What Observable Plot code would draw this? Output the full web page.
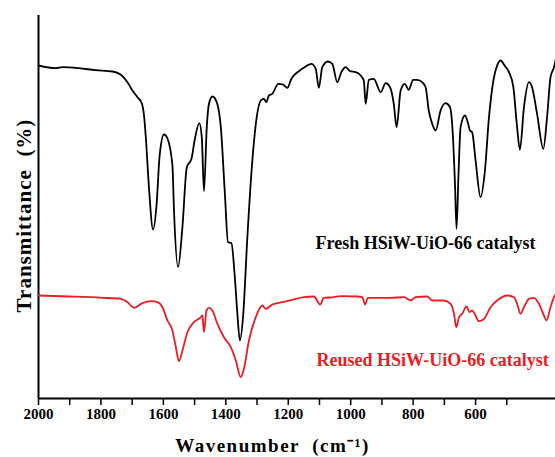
<!DOCTYPE html>
<html><head><meta charset="utf-8">
<script src="https://cdn.jsdelivr.net/npm/d3@7"></script>
<script src="https://cdn.jsdelivr.net/npm/@observablehq/plot@0.6"></script>
<style>
body{margin:0;background:#fff}
#chart svg, #chart svg text{font-family:"Liberation Serif","Times New Roman",serif !important;font-weight:bold}
</style>
</head><body><div id="chart"></div>
<script>
const freshWavenumber = [2000,1945,1923,1871,1817,1763,1736,1715,1699,1683,1669,1662,1656,1646,1633,1622,1612,1598,1587,1571,1566,1553,1539,1525,1510,1500,1485,1477,1470,1461,1454,1443,1429,1416,1403,1393,1382,1372,1363,1355,1344,1331,1315,1301,1288,1278,1270,1262,1251,1232,1217,1203,1190,1166,1144,1126,1112,1102,1091,1073,1059,1043,1030,1016,1002,984,968,958,952,942,926,904,888,874,862,853,840,827,814,800,787,771,760,750,739,728,712,696,682,673,666,661,655,648,634,625,618,611,600,584,570,557,543,531,520,507,493,479,467,458,445,429,419,403,383,371,360,349,344];
const freshT = [333,330.3,331.3,330.3,328.3,327,323.7,316.3,308,301.3,295,283,260,210,169,193,243,264,260,233,188,131.3,171.3,231.3,239.7,258,275.3,261.3,207.3,271.3,294.7,302,296.3,271.3,204.7,156.3,155.3,125,85,58,85,161.3,238,281.3,298,299.7,296.3,303,304.7,314.7,314,310.7,319.7,327.3,332,334.7,329.7,310.7,331.3,337,334.7,316.3,326.3,331.3,327.3,326.3,323,318,294.7,318.7,319.7,306.3,315.3,311.3,294.7,271.3,308,314.7,308.7,318.7,318.7,316.3,311.3,288,274.7,268,288,295.3,291.3,264.7,214.7,169.7,221.3,271.3,283,276.3,268,266.3,238,201.3,228,281.3,318,333,338,333,326.3,311.3,271.3,248.7,291.3,316.3,311.3,284.7,249.7,281.3,321.3,331.3,338];
const reusedWavenumber = [2000,1902,1795,1736,1715,1694,1667,1640,1619,1603,1587,1571,1560,1550,1539,1523,1502,1480,1475,1470,1462,1454,1443,1427,1406,1384,1368,1352,1342,1326,1304,1283,1272,1251,1219,1187,1150,1118,1098,1086,1054,1032,979,963,954,945,915,872,830,808,792,755,739,702,680,669,662,653,643,629,619,611,603,589,573,552,531,498,477,467,456,445,429,413,397,381,373,360,349,344];
const reusedT = [103,102,100.7,99.7,96.3,90.7,95.3,97.3,96.3,91.3,78,68,51.3,37.3,48,66.3,76.3,81.3,83,66.3,88,90.7,88,74.7,61.3,51.3,38,21.3,29.7,58,81.3,93,89.7,94,96.3,98.7,101.3,102,94,100.7,101.3,102.3,102,101.3,94,100.7,100.7,100.7,101.3,98,101.3,102,98,98,94.7,84.7,71.3,81.3,84.7,92,86.3,88,84.7,77.3,79.7,91.3,98,103,101.3,94.7,84.7,91.3,99.7,100.7,94.7,83,78,91.3,101.3,104];
const xTickLabels = [2000,1800,1600,1400,1200,1000,800,600];
const xMinorTicks = [1900,1700,1500,1300,1100,900,700,500];
const seriesLabels = ["Fresh HSiW-UiO-66 catalyst", "Reused HSiW-UiO-66 catalyst"];
const xTitle = "Wavenumber  (cm\u207B\u00B9)";
const yTitle = "Transmittance  (%)";

const RED = "#ec1c24";
const FONT = "Liberation Serif";
const fresh = freshWavenumber.map((w, i) => ({w, t: freshT[i]}));
const reused = reusedWavenumber.map((w, i) => ({w, t: reusedT[i]}));
const allTicks = xTickLabels.concat(xMinorTicks).sort((a, b) => b - a);

const chart = Plot.plot({
  width: 555, height: 457,
  marginLeft: 38, marginRight: 0, marginTop: 15, marginBottom: 59,
  style: {fontFamily: FONT, fontWeight: "bold", background: "#fff", color: "#000"},
  x: {domain: [2000, 344]},
  y: {domain: [0, 383], axis: null},
  marks: [
    Plot.axisX(allTicks, {tickSize: 7, tickPadding: 3, strokeWidth: 1.5,
      tickFormat: d => xTickLabels.includes(d) ? String(d) : "",
      fontSize: 15, fontWeight: "bold", fontFamily: FONT, label: null}),
    Plot.ruleY([0], {strokeWidth: 2}),
    Plot.ruleX([2000], {strokeWidth: 2}),
    Plot.line(fresh, {x: "w", y: "t", stroke: "#000", strokeWidth: 1.8, curve: "monotone-x"}),
    Plot.line(reused, {x: "w", y: "t", stroke: RED, strokeWidth: 1.8, curve: "monotone-x"}),
    Plot.text([seriesLabels[0]], {text: d => d, frameAnchor: "top-left", dx: 277, dy: 233, textAnchor: "start", lineAnchor: "bottom", fontSize: 18, fontFamily: FONT, fontWeight: "bold", fill: "#000"}),
    Plot.text([seriesLabels[1]], {text: d => d, frameAnchor: "top-left", dx: 278, dy: 350, textAnchor: "start", lineAnchor: "bottom", fontSize: 18, fontFamily: FONT, fontWeight: "bold", fill: RED}),
    Plot.text([xTitle], {text: d => d, frameAnchor: "bottom", dx: -24.5, dy: 53, textAnchor: "middle", lineAnchor: "bottom", fontSize: 19, fontFamily: FONT, fontWeight: "bold", fill: "#000"}),
    Plot.text([yTitle], {text: d => d, frameAnchor: "left", dx: -14, dy: 8.5, rotate: -90, textAnchor: "middle", lineAnchor: "middle", fontSize: 21, fontFamily: FONT, fontWeight: "bold", fill: "#000"})
  ]
});
d3.select(chart).selectAll("text").each(function() {
  const t = this.textContent;
  if (t === xTitle) this.setAttribute("letter-spacing", "1.5");
  if (t === yTitle) this.setAttribute("letter-spacing", "1");
});
document.getElementById("chart").appendChild(chart);
</script>
</body></html>
